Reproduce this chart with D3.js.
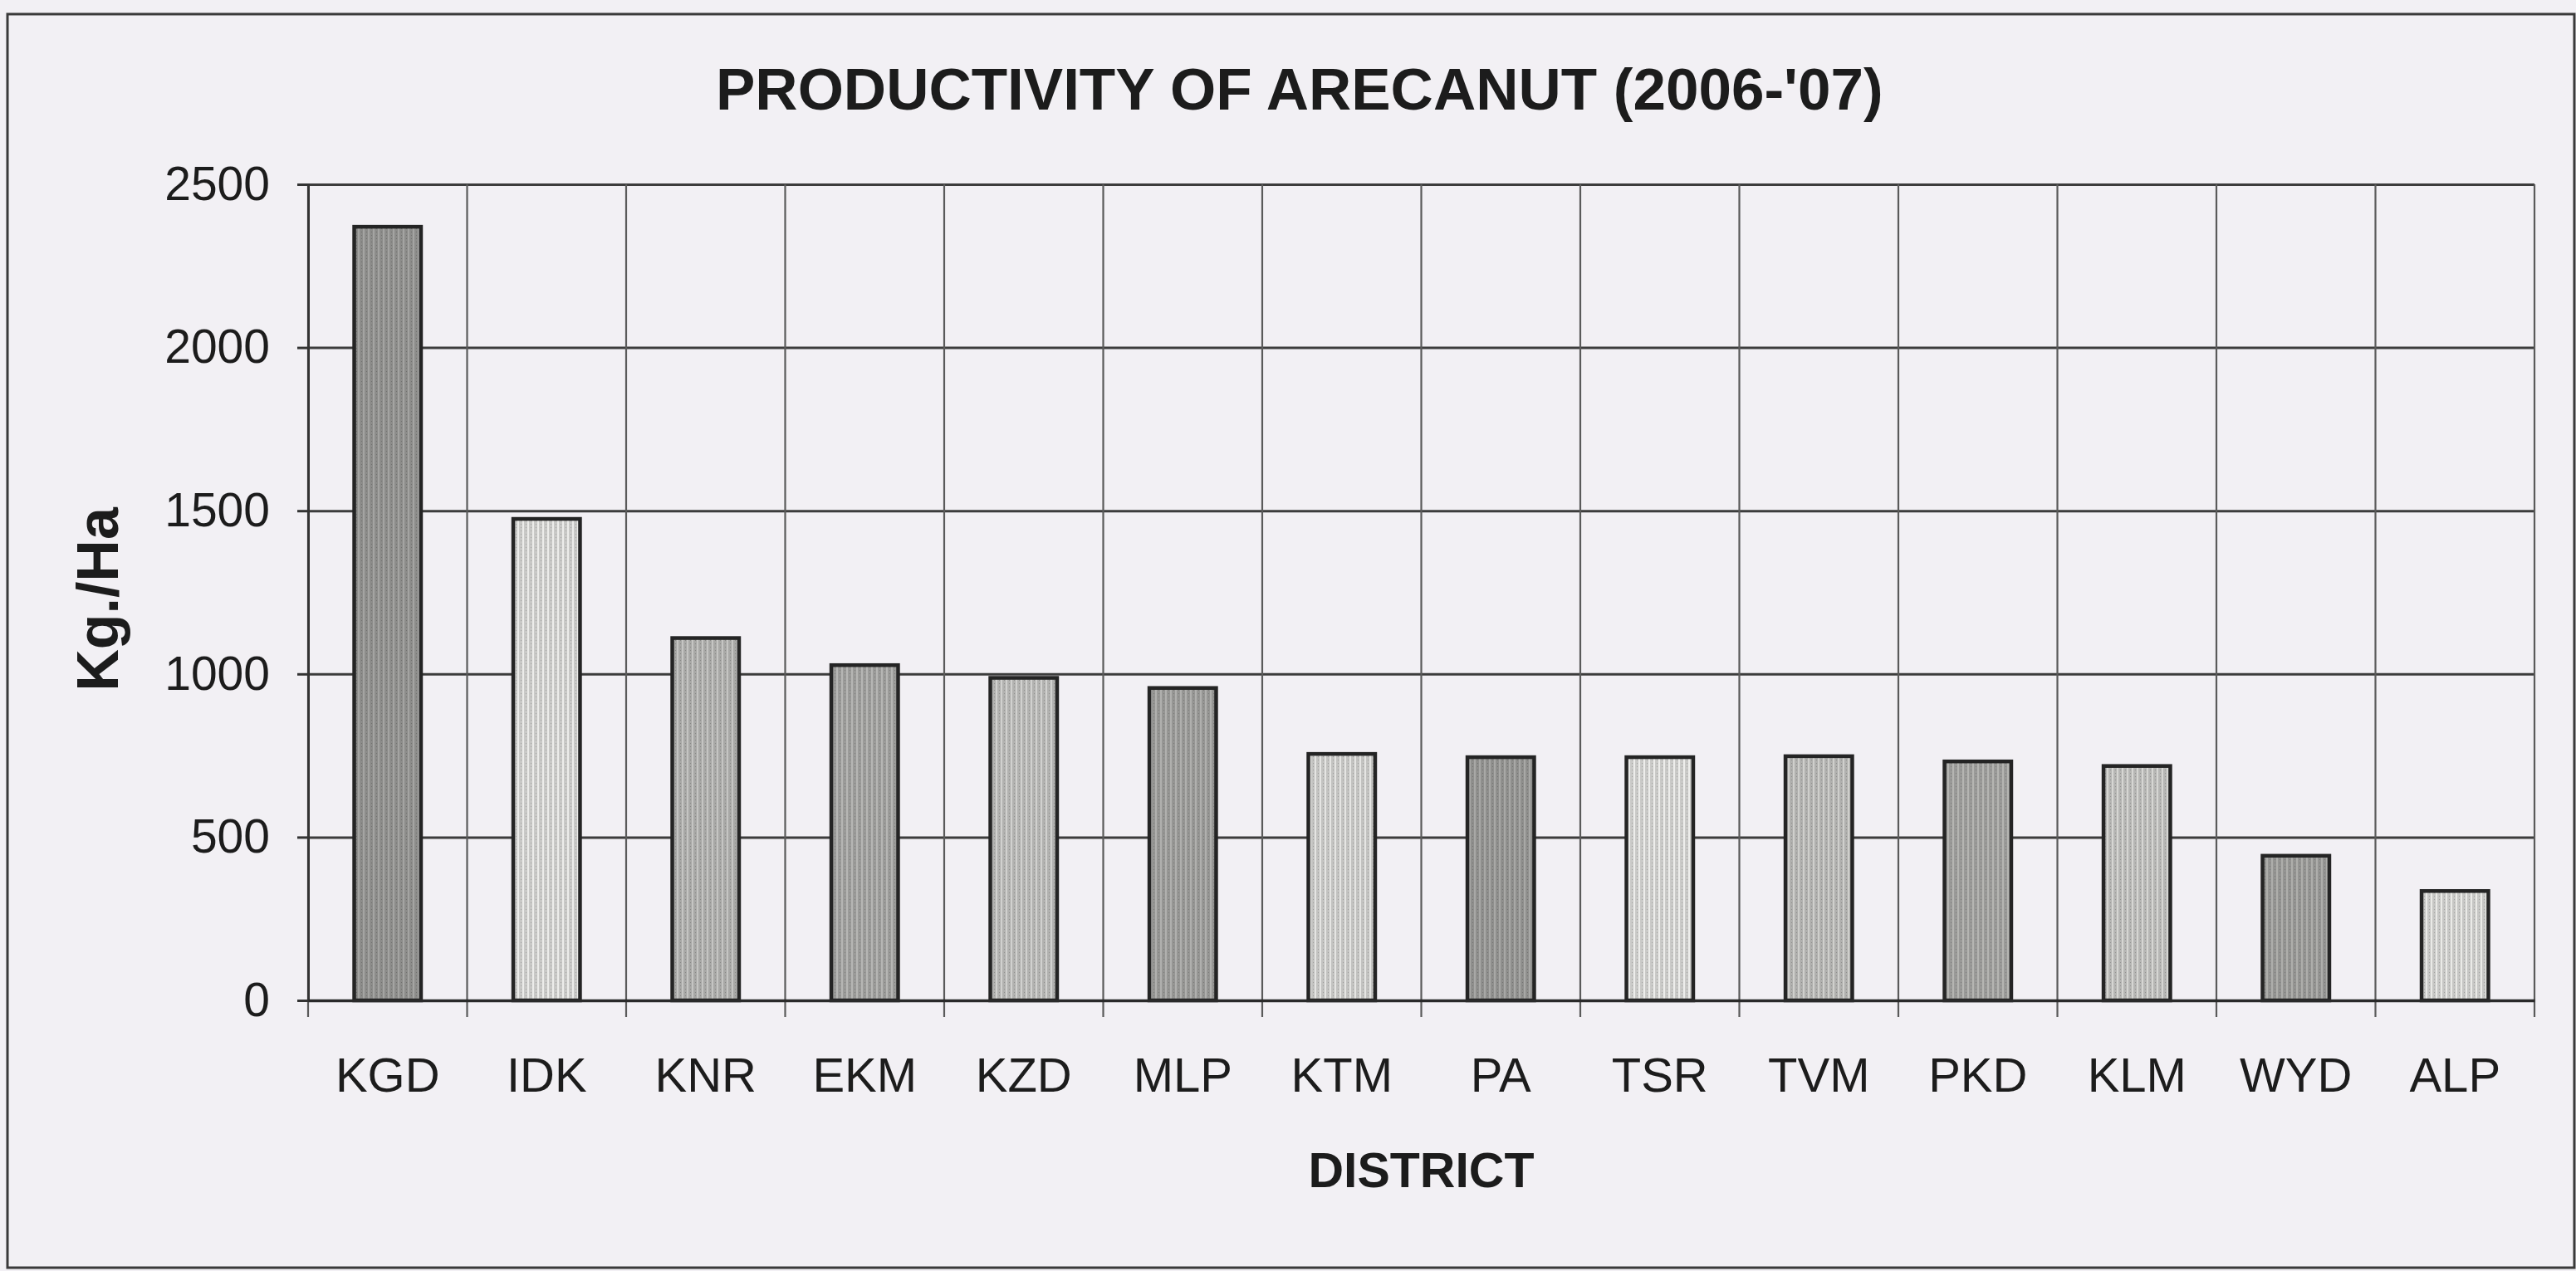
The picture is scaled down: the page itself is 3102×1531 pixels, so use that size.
<!DOCTYPE html>
<html>
<head>
<meta charset="utf-8">
<script src="https://cdn.jsdelivr.net/npm/d3@7"></script>
<style>
  body { margin: 0; background: #f2f0f4; }
  svg { display: block; }
  text { font-family: "Liberation Sans", Arial, sans-serif; fill: #1c1c1c; }
</style>
</head>
<body>
<div id="chart"></div>
<script>
// data
const districts = ["KGD", "IDK", "KNR", "EKM", "KZD", "MLP", "KTM", "PA", "TSR", "TVM", "PKD", "KLM", "WYD", "ALP"];
const productivity = [2370, 1475, 1110, 1027, 988, 957, 755, 745, 745, 748, 732, 718, 443, 335];
const yTicks = [0, 500, 1000, 1500, 2000, 2500];
const titleText = "PRODUCTIVITY OF ARECANUT (2006-'07)";
const yLabel = "Kg./Ha";
const xLabel = "DISTRICT";

// grey tones of the photocopied fills, one per bar
const shades = ["#8c8c8a", "#c9c9c7", "#a8a8a6", "#9b9b99", "#b2b2b0", "#969694", "#c3c3c1",
                "#8f8f8d", "#cacac8", "#b0b0ae", "#9a9a98", "#b6b6b4", "#949492", "#c7c7c5"];

const totalW = 3102, totalH = 1531;
const margin = { top: 222, right: 50, bottom: 326, left: 371 };
const width = totalW - margin.left - margin.right;
const height = totalH - margin.top - margin.bottom;

const data = districts.map((d, i) => ({ district: d, value: productivity[i] }));

const svgRoot = d3.select("#chart")
    .append("svg")
    .attr("width", totalW)
    .attr("height", totalH);

// fill patterns (fine vertical stripes like the screen tones)
const defs = svgRoot.append("defs");
const shadeOf = d3.scaleOrdinal(districts, shades);
districts.forEach((d, i) => {
    const base = shadeOf(d);
    const p = defs.append("pattern")
        .attr("id", "pat" + i)
        .attr("patternUnits", "userSpaceOnUse")
        .attr("width", 6)
        .attr("height", 4);
    p.append("rect").attr("width", 6).attr("height", 4).attr("fill", base);
    p.append("rect").attr("x", 0).attr("width", 2).attr("height", 4)
        .attr("fill", d3.color(base).brighter(0.45));
    p.append("rect").attr("x", 4).attr("y", 1).attr("width", 1).attr("height", 1)
        .attr("fill", d3.color(base).darker(0.6));
});

// background and outer frame
svgRoot.append("rect")
    .attr("width", totalW).attr("height", totalH)
    .attr("fill", "#f2f0f4");
svgRoot.append("rect")
    .attr("x", 9).attr("y", 17)
    .attr("width", 3091).attr("height", 1510)
    .attr("fill", "none")
    .attr("stroke", "#3a3a3a")
    .attr("stroke-width", 3);

const svg = svgRoot.append("g")
    .attr("transform", `translate(${margin.left},${margin.top})`);

// scales
const x = d3.scaleBand()
    .domain(districts)
    .range([0, width])
    .paddingInner(0.58)
    .paddingOuter(0.29);

const y = d3.scaleLinear()
    .domain([0, 2500])
    .range([height, 0]);

// horizontal gridlines
svg.append("g")
    .call(d3.axisLeft(y).tickValues(yTicks).tickSize(-width).tickFormat(""))
    .call(g => g.select(".domain").remove())
    .call(g => g.selectAll("line").attr("stroke", "#3c3c3c").attr("stroke-width", 3));

// vertical gridlines at category boundaries
const bounds = d3.range(districts.length + 1).map(i => i * x.step());
svg.append("g")
    .selectAll("line")
    .data(bounds)
    .enter().append("line")
    .attr("x1", d => d).attr("x2", d => d)
    .attr("y1", 0).attr("y2", height + 20)
    .attr("stroke", "#5a5a5a")
    .attr("stroke-width", 2.2);

// y axis
svg.append("g")
    .call(d3.axisLeft(y).tickValues(yTicks).tickFormat(d3.format("d")).tickSize(13).tickPadding(33))
    .call(g => g.select(".domain").attr("stroke", "#333").attr("stroke-width", 3))
    .call(g => g.selectAll("line").attr("stroke", "#333").attr("stroke-width", 3))
    .call(g => g.selectAll("text")
        .attr("font-size", 57)
        .attr("fill", "#1c1c1c")
        .attr("font-family", "'Liberation Sans', Arial, sans-serif"));

// bars
svg.selectAll(".bar")
    .data(data)
    .enter().append("rect")
    .attr("class", "bar")
    .attr("x", d => x(d.district))
    .attr("y", d => y(d.value))
    .attr("width", x.bandwidth())
    .attr("height", d => height - y(d.value))
    .attr("fill", (d, i) => `url(#pat${i})`)
    .attr("stroke", "#242424")
    .attr("stroke-width", 4.5);

// x axis
svg.append("g")
    .attr("transform", `translate(0,${height})`)
    .call(d3.axisBottom(x).tickSize(0).tickPadding(69))
    .call(g => g.select(".domain").attr("stroke", "#2a2a2a").attr("stroke-width", 3.5))
    .call(g => g.selectAll("text")
        .attr("font-size", 58)
        .attr("fill", "#1c1c1c")
        .attr("font-family", "'Liberation Sans', Arial, sans-serif"));

// titles
svgRoot.append("text")
    .attr("x", 862)
    .attr("y", 132)
    .attr("font-size", 71)
    .attr("font-weight", "bold")
    .text(titleText);

svgRoot.append("text")
    .attr("x", margin.left + width / 2)
    .attr("y", 1430)
    .attr("text-anchor", "middle")
    .attr("font-size", 59)
    .attr("font-weight", "bold")
    .text(xLabel);

svgRoot.append("text")
    .attr("transform", "translate(142,722) rotate(-90)")
    .attr("text-anchor", "middle")
    .attr("font-size", 70)
    .attr("font-weight", "bold")
    .text(yLabel);
</script>
</body>
</html>
